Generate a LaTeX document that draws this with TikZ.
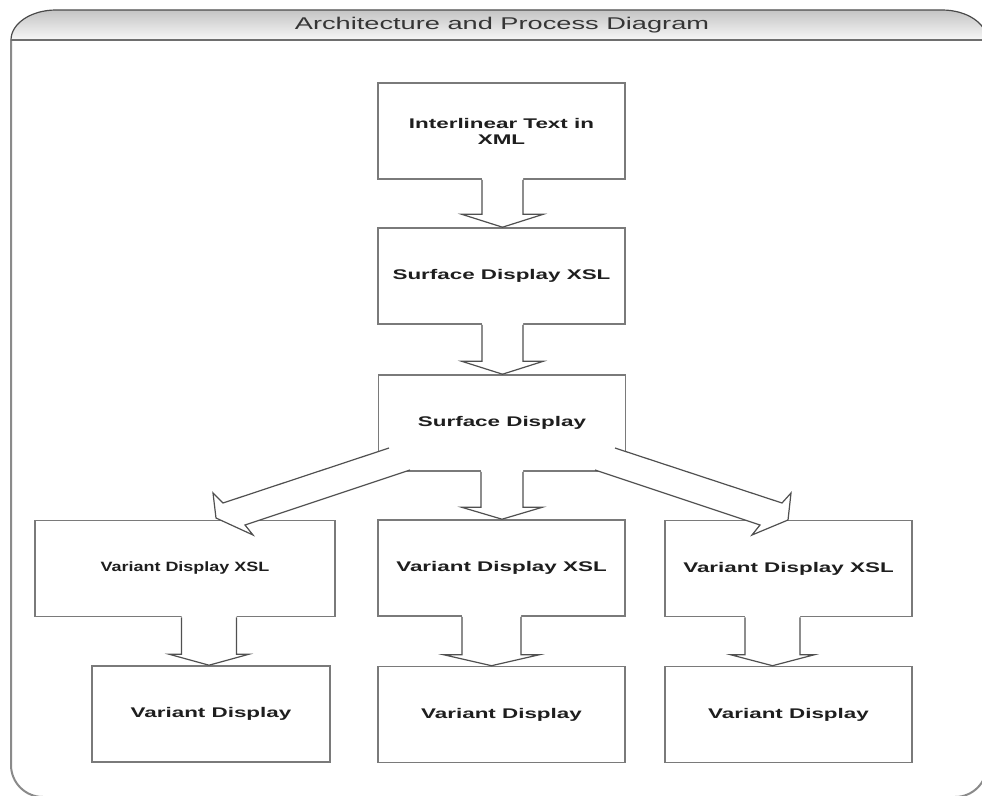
\documentclass[tikz,border=0pt]{standalone}
\usepackage{fontspec}
\setmainfont{Liberation Sans}
\newfontfamily\boxfont[FakeStretch=1.6]{Liberation Sans}
\newfontfamily\narrowboxfont[FakeStretch=1.33]{Liberation Sans}
\usetikzlibrary{calc}
\definecolor{boxline}{HTML}{7A7A7A}
\definecolor{arrline}{HTML}{505050}
\definecolor{hdtop}{HTML}{C4C4C4}
\definecolor{hdbot}{HTML}{F7F7F7}
\definecolor{hdline}{HTML}{4A4A4A}
\definecolor{frameline}{HTML}{8A8A8A}
\definecolor{txt}{HTML}{1E1E1E}
\newcommand\blkdown[6]{%
  \coordinate (T) at ($(#2.north)+(#3,0)$);
  \coordinate (S) at (#1.south -| T);
  \fill[white] ($(S)+(-#4,-3)$) -- ($(T)+(-#4,-#6)$) -- ($(T)+(-#5,-#6)$) -- (T) -- ($(T)+(#5,-#6)$) -- ($(T)+(#4,-#6)$) -- ($(S)+(#4,-3)$) -- cycle;
  \draw[arr] ($(S)+(-#4,0)$) -- ($(T)+(-#4,-#6)$) -- ($(T)+(-#5,-#6)$) -- (T) -- ($(T)+(#5,-#6)$) -- ($(T)+(#4,-#6)$) -- ($(S)+(#4,0)$);
}
\begin{document}
\begin{tikzpicture}[x=1pt,y=-1pt,
  box/.style={draw=boxline,line width=1.6pt,fill=white,minimum width=#1,minimum height=96pt,inner sep=0pt,
    font=\boxfont\bfseries\fontsize{14}{16}\selectfont,text=txt,align=center},
  box/.default=247pt,
  arr/.style={draw=arrline,line width=1.2pt,line join=miter}]
\useasboundingbox (0,0) rectangle (982,795);
\begin{scope}
\clip (0,0) rectangle (982,795);
\fill[white] (0,0) rectangle (982,795);
\draw[frameline,line width=2pt,rounded corners=32pt] (11,40) -- (11,797) -- (987,797) -- (987,40);
\shade[top color=hdtop,bottom color=hdbot] (11,40) .. controls (11,23.4) and (31.2,10) .. (56,10) -- (942,10) .. controls (966.8,10) and (987,23.4) .. (987,40) -- cycle;
\draw[hdline,line width=1.2pt] (11,40) .. controls (11,23.4) and (31.2,10) .. (56,10) -- (942,10) .. controls (966.8,10) and (987,23.4) .. (987,40);
\draw[hdline!80,line width=1.8pt] (11,40) -- (987,40);
\end{scope}
\node[font=\boxfont\fontsize{17}{19}\selectfont,text=txt!90] (title) at (502,25) {Architecture and Process Diagram};
% boxes
\node[box] (b1) at (501.5,131) {Interlinear Text in\\XML};
\node[box] (b2) at (501.5,276) {Surface Display XSL};
\node[box] (b3) at (502,423) {Surface Display};
\node[box=300pt,font=\narrowboxfont\bfseries\fontsize{13.5}{16}\selectfont] (x1) at (185,568.5) {Variant Display XSL};
\node[box] (x2) at (501.5,568) {Variant Display XSL};
\node[box] (x3) at (788.5,568.5) {Variant Display XSL};
\node[box=238pt] (v1) at (211,714) {Variant Display};
\node[box] (v2) at (501.5,714.5) {Variant Display};
\node[box] (v3) at (788.5,714.5) {Variant Display};
% vertical block arrows
\blkdown{b1}{b2}{1}{20.5}{41}{13}
\blkdown{b2}{b3}{0.5}{20.5}{41}{13}
\blkdown{b3}{x2}{0.5}{21}{40.5}{12}
\blkdown{x1}{v1}{-2}{27.5}{40}{11}
\blkdown{x2}{v2}{-10}{29.5}{48}{11}
\blkdown{x3}{v3}{-16}{27.5}{42}{11}
% diagonal block arrows out of Surface Display
\coordinate (la0) at (389,448);
\coordinate (la1) at (223,503);
\coordinate (la2) at (213,493);
\coordinate (la3) at (216,518);
\coordinate (la4) at (253,535);
\coordinate (la5) at (245,525);
\coordinate (la6) at (410,470);
\coordinate (ra0) at (615,448);
\coordinate (ra1) at (782,503);
\coordinate (ra2) at (791,493);
\coordinate (ra3) at (788,520);
\coordinate (ra4) at (752,535);
\coordinate (ra5) at (760,525);
\coordinate (ra6) at (595,470);
\fill[white] (la0) -- (la1) -- (la2) -- (la3) -- (la4) -- (la5) -- (la6) -- cycle;
\draw[arr] (la0) -- (la1) -- (la2) -- (la3) -- (la4) -- (la5) -- (la6);
\fill[white] (ra0) -- (ra1) -- (ra2) -- (ra3) -- (ra4) -- (ra5) -- (ra6) -- cycle;
\draw[arr] (ra0) -- (ra1) -- (ra2) -- (ra3) -- (ra4) -- (ra5) -- (ra6);
\end{tikzpicture}
\end{document}
